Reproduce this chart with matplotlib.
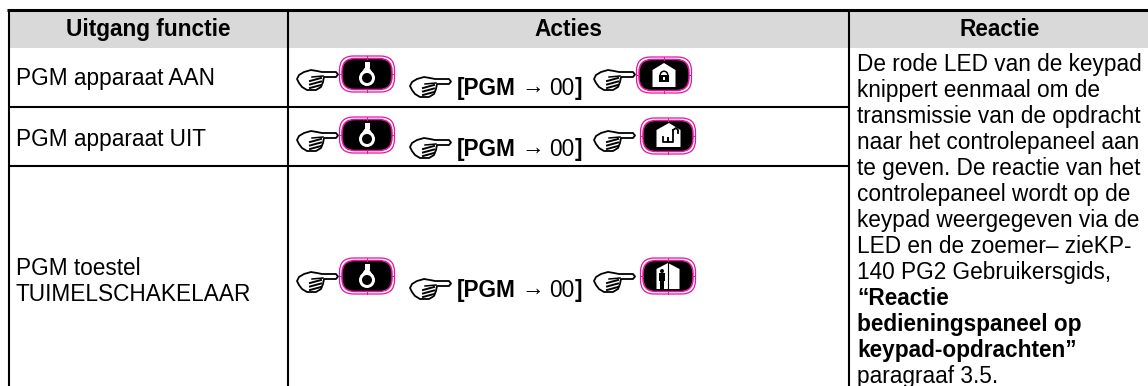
import matplotlib
matplotlib.use("Agg")
import matplotlib.pyplot as plt
from matplotlib.patches import Rectangle, FancyBboxPatch, Circle, Polygon, Wedge

W, H = 1148, 386
FS = 16.3
PINK = "#e6139c"

headers = ["Uitgang functie", "Acties", "Reactie"]
header_x = [148.5, 568, 1000]
functions = [["PGM apparaat AAN"], ["PGM apparaat UIT"], ["PGM toestel", "TUIMELSCHAKELAAR"]]
function_y = [[85], [146], [275, 301]]
# key centres, (text baseline), last key per row
bulb_y = [74, 135, 276]
text_y = [95, 156, 297]
end_x = [664, 668, 668]
end_y = [75, 136, 276]
end_icons = ["lock", "unlock", "person"]
reaction_lines = [
    ("De rode LED van de keypad", "normal"),
    ("knippert eenmaal om de", "normal"),
    ("transmissie van de opdracht", "normal"),
    ("naar het controlepaneel aan", "normal"),
    ("te geven. De reactie van het", "normal"),
    ("controlepaneel wordt op de", "normal"),
    ("keypad weergegeven via de", "normal"),
    ("LED en de zoemer\u2013 zieKP-", "normal"),
    ("140 PG2 Gebruikersgids,", "normal"),
    ("\u201cReactie", "bold"),
    ("bedieningspaneel op", "bold"),
    ("keypad-opdrachten\u201d", "bold"),
    ("paragraaf 3.5.", "normal"),
]

plt.rcParams["font.family"] = ["Liberation Sans", "DejaVu Sans"]
fig = plt.figure(figsize=(W / 100, H / 100), dpi=100)
ax = fig.add_axes([0, 0, 1, 1])
ax.set_xlim(0, W)
ax.set_ylim(H, 0)
ax.axis("off")


def hand(x, y):
    # pointing hand, x/y is top left of it
    palm = [(x, y + 9), (x + 2, y + 5), (x + 7, y + 2), (x + 14, y), (x + 20, y + 1), (x + 25, y + 2),
            (x + 39, y + 2), (x + 41, y + 4.5), (x + 39, y + 7), (x + 27, y + 7), (x + 26, y + 12),
            (x + 24, y + 17), (x + 19, y + 20), (x + 10, y + 20), (x + 5, y + 17), (x + 2, y + 13)]
    ax.add_patch(Polygon(palm, closed=True, fc="white", ec="black", lw=1.3, joinstyle="round", zorder=2))
    for i in range(3):
        ax.plot([x + 13, x + 24], [y + 11 + i * 3.5, y + 8 + i * 3.5], color="black", lw=1.4, zorder=3)
    ax.plot([x + 15, x + 26], [y + 7, y + 6], color="black", lw=1.1, zorder=3)


def button(x, y, kind):
    # magenta double ring and black key
    ax.add_patch(FancyBboxPatch((x - 27.5, y - 18), 55, 36, boxstyle="round,pad=0,rounding_size=14",
                                fc="white", ec=PINK, lw=0.9, zorder=3))
    ax.add_patch(FancyBboxPatch((x - 25, y - 15.5), 50, 31, boxstyle="round,pad=0,rounding_size=13",
                                fc="black", ec=PINK, lw=1.1, zorder=4))
    for dx0, dy0, dx1, dy1 in [(0, -18, 0, -15), (0, 15, 0, 18), (-27, 0, -25, 0), (25, 0, 27, 0)]:
        ax.plot([x + dx0, x + dx1], [y + dy0, y + dy1], color=PINK, lw=0.7, zorder=5)
    if kind == "bulb":
        ax.add_patch(Rectangle((x - 2.5, y - 12), 5, 6, fc="white", ec="none", zorder=5))
        ax.add_patch(Polygon([(x - 2.5, y - 6), (x + 2.5, y - 6), (x + 7, y + 1), (x - 7, y + 1)], fc="white", ec="none", zorder=5))
        ax.add_patch(Circle((x, y + 4), 8, fc="white", ec="none", zorder=5))
        ax.add_patch(Circle((x, y + 4), 5, fc="black", ec="none", zorder=6))
    elif kind == "lock":
        ax.add_patch(Polygon([(x, y - 12), (x + 11.5, y - 5), (x + 11.5, y + 12), (x - 11.5, y + 12), (x - 11.5, y - 5)], fc="white", ec="none", zorder=5))
        ax.add_patch(Rectangle((x - 5, y), 10, 7, fc="black", ec="none", zorder=6))
        ax.add_patch(Wedge((x, y), 4.5, 180, 360, width=1.5, fc="black", ec="none", zorder=6))
        ax.add_patch(Rectangle((x - 1, y + 2), 2, 3, fc="white", ec="none", zorder=7))
    elif kind == "unlock":
        ax.add_patch(Polygon([(x + 1, y - 13), (x + 12.5, y - 6), (x + 12.5, y + 11), (x - 11.5, y + 11), (x - 11.5, y - 6)], fc="white", ec="none", zorder=5))
        ax.plot([x - 5, x - 5, x + 5, x + 5], [y + 1, y + 6, y + 6, y - 6], color="black", lw=1.3, zorder=6)
        ax.plot([x + 5, x + 8, x + 10, x + 10], [y - 6, y - 8, y - 6, y - 3], color="black", lw=1.3, zorder=6)
        ax.add_patch(Rectangle((x - 1, y + 1), 2, 5, fc="black", ec="none", zorder=6))
    else:
        ax.add_patch(Polygon([(x, y - 13), (x + 11.5, y - 7), (x + 11.5, y + 13), (x - 11.5, y + 13), (x - 11.5, y - 7)], fc="white", ec="none", zorder=5))
        ax.plot([x, x], [y - 13, y + 13], color="black", lw=0.8, zorder=6)
        ax.add_patch(Circle((x - 6, y - 5), 2, fc="black", ec="none", zorder=6))
        ax.add_patch(Rectangle((x - 9, y - 3), 6, 8, fc="black", ec="none", zorder=6))
        ax.add_patch(Rectangle((x - 8, y + 5), 4, 8, fc="black", ec="none", zorder=6))


# header band and grid
ax.add_patch(Rectangle((8, 10), 1140, 38, fc="#d9d9d9", ec="none"))
ax.plot([7, 1148], [9.5, 9.5], color="black", lw=2.2, solid_capstyle="butt")
for x in [8.5, 288, 849]:
    ax.plot([x, x], [9, 386], color="black", lw=1.5, solid_capstyle="butt")
for y in [107, 165.5]:
    ax.plot([8, 849], [y, y], color="black", lw=1.5, solid_capstyle="butt")

for label, x in zip(headers, header_x):
    ax.text(x, 36, label, ha="center", va="baseline", fontsize=FS, fontweight="bold")

for lines, ys in zip(functions, function_y):
    for line, y in zip(lines, ys):
        ax.text(16, y, line, ha="left", va="baseline", fontsize=FS)

for i in range(3):
    hand(297, bulb_y[i] - 4)
    button(367, bulb_y[i], "bulb")
    hand(410, bulb_y[i] + 3)
    ax.text(457, text_y[i], "[PGM", ha="left", va="baseline", fontsize=FS, fontweight="bold")
    ax.text(521, text_y[i] - 2, "\u2192", ha="left", va="baseline", fontsize=FS)
    ax.text(549, text_y[i], "00", ha="left", va="baseline", fontsize=FS)
    ax.text(575, text_y[i], "]", ha="left", va="baseline", fontsize=FS, fontweight="bold")
    hand(594, bulb_y[i] - 4)
    button(end_x[i], end_y[i], end_icons[i])

for i, (line, weight) in enumerate(reaction_lines):
    ax.text(857, 71 + i * 26.0, line, ha="left", va="baseline", fontsize=FS, fontweight=weight)

fig.savefig("out.png", dpi=100)
